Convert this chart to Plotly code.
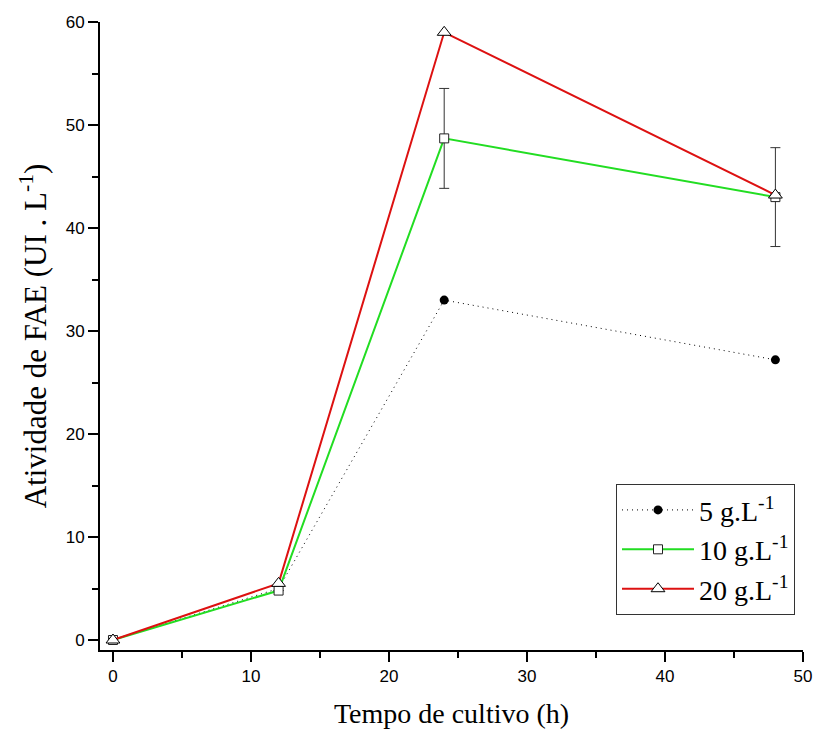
import plotly.graph_objects as go

time_h = [0, 12, 24, 48]
act_5 = [0.0, 5.0, 33.0, 27.2]
act_10 = [0.0, 4.8, 48.7, 43.0]
err_10 = [0.0, 0.0, 4.85, 4.8]
act_20 = [0.0, 5.5, 59.0, 43.2]

fig = go.Figure()
fig.add_trace(go.Scatter(
    x=time_h, y=act_5, name="5 g.L<sup>-1</sup>", mode="lines+markers",
    line=dict(color="black", width=1, dash="1px,4px"),
    marker=dict(symbol="circle", size=9, color="black"),
))
fig.add_trace(go.Scatter(
    x=time_h, y=act_10, name="10 g.L<sup>-1</sup>", mode="lines+markers",
    line=dict(color="#22dd22", width=2),
    marker=dict(symbol="square", size=9, color="white", line=dict(color="#222222", width=1)),
    error_y=dict(type="data", array=err_10, visible=True, color="#333333", thickness=1, width=5),
))
fig.add_trace(go.Scatter(
    x=time_h, y=act_20, name="20 g.L<sup>-1</sup>", mode="lines+markers",
    line=dict(color="#dd1111", width=2),
    marker=dict(symbol="triangle-up", size=12, color="white", line=dict(color="black", width=1)),
))

axis_common = dict(
    showline=True, linecolor="black", linewidth=2, mirror=False,
    ticks="outside", ticklen=10, tickwidth=2, tickcolor="black",
    showgrid=False, zeroline=False, automargin=False,
    tickfont=dict(family="Liberation Sans, Arial", size=17, color="black"),
    minor=dict(ticks="outside", ticklen=6, tickwidth=2, tickcolor="black", dtick=5),
)
fig.update_xaxes(range=[-0.94, 50], dtick=10, tick0=0,
                 title=dict(text="Tempo de cultivo (h)", font=dict(family="Liberation Serif, Times New Roman", size=28, color="black"), standoff=18),
                 **axis_common)
fig.update_yaxes(range=[-0.97, 60], dtick=10, tick0=0,
                 title=dict(text="Atividade de FAE (UI . L<sup>-1</sup>)", font=dict(family="Liberation Serif, Times New Roman", size=31, color="black"), standoff=10),
                 **axis_common)

fig.update_layout(
    width=816, height=736,
    margin=dict(l=100, r=13, t=22, b=86),
    plot_bgcolor="white", paper_bgcolor="white",
    legend=dict(x=0.734, y=0.264, xanchor="left", yanchor="top",
                bgcolor="white", bordercolor="#333333", borderwidth=1,
                font=dict(family="Liberation Serif, Times New Roman", size=28, color="black"),
                itemwidth=72, tracegroupgap=0),
)
fig.write_html("out.html")
